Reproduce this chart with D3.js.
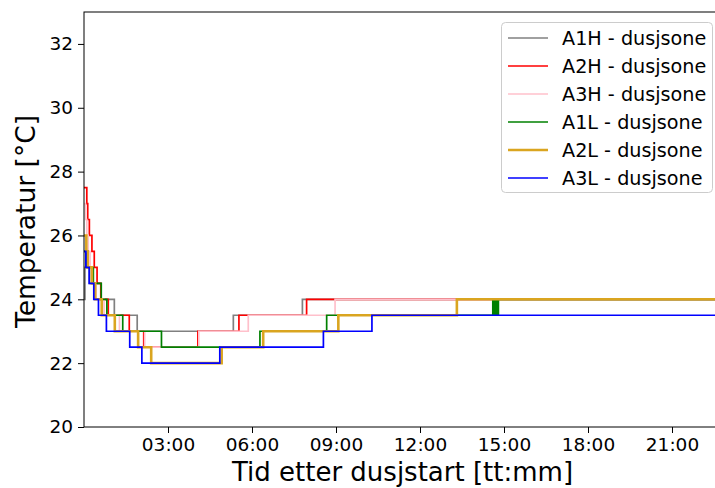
<!DOCTYPE html>
<html>
<head>
<meta charset="utf-8">
<script src="https://cdn.jsdelivr.net/npm/d3@7"></script>
<style>
  html, body { margin: 0; padding: 0; background: #fff; }
  svg { display: block; font-family: "DejaVu Sans", sans-serif; }
</style>
</head>
<body>
<svg id="chart" width="715" height="488"></svg>
<script>
// Shower-zone temperature logs: minutes after shower start and the logged value (°C) from each change on.
const seriesNames = ["A1H - dusjsone", "A2H - dusjsone", "A3H - dusjsone", "A1L - dusjsone", "A2L - dusjsone", "A3L - dusjsone"];

const a1hMinutes = [0, 2, 12, 36, 65, 114, 320, 468, 1360];
const a1hTemps   = [24.0, 25.0, 24.5, 24.0, 23.5, 23.0, 23.5, 24.0, 24.0];

const a2hMinutes = [0, 6, 8, 11.5, 17, 22, 28, 36, 52, 97, 128, 244, 332, 477, 1360];
const a2hTemps   = [27.5, 27.0, 26.5, 26.0, 25.5, 25.0, 24.5, 24.0, 23.5, 23.0, 22.5, 23.0, 23.5, 24.0, 24.0];

const a3hMinutes = [0, 3, 6, 9, 13, 19, 26, 43, 76, 130, 246, 352, 538, 1360];
const a3hTemps   = [27.0, 26.5, 26.0, 25.5, 25.0, 24.5, 24.0, 23.5, 23.0, 22.5, 23.0, 23.5, 24.0, 24.0];

const a1lMinutes = [0, 6, 20, 37, 49, 83, 166, 377, 520, 876, 878, 880, 882, 884, 886, 888, 1360];
const a1lTemps   = [25.5, 25.0, 24.5, 24.0, 23.5, 23.0, 22.5, 23.0, 23.5, 24.0, 23.5, 24.0, 23.5, 24.0, 23.5, 24.0, 24.0];

const a2lMinutes = [0, 5, 8, 17, 24, 38, 66, 116, 144, 295, 384, 545, 799, 1360];
const a2lTemps   = [26.0, 25.5, 25.0, 24.5, 24.0, 23.5, 23.0, 22.5, 22.0, 22.5, 23.0, 23.5, 24.0, 24.0];

const a3lMinutes = [0, 4, 11, 21, 31, 48, 98, 124, 291, 513, 617, 1360];
const a3lTemps   = [25.5, 25.0, 24.5, 24.0, 23.5, 23.0, 22.5, 22.0, 22.5, 23.0, 23.5, 23.5];

const xTickMinutes = [180, 360, 540, 720, 900, 1080, 1260];
const yTickValues  = [20, 22, 24, 26, 28, 30, 32];

// Line styling, in legend order
const lineColors = ["#808080", "#ff0000", "#ffc0cb", "#008000", "#daa520", "#0000ff"];
const lineWidths = [1.7, 1.7, 1.7, 1.7, 2.6, 1.7];

const seriesData = [
  [a1hMinutes, a1hTemps], [a2hMinutes, a2hTemps], [a3hMinutes, a3hTemps],
  [a1lMinutes, a1lTemps], [a2lMinutes, a2lTemps], [a3lMinutes, a3lTemps]
].map(([m, t]) => m.map((v, i) => ({ min: v, temp: t[i] })));

const svg = d3.select("#chart");
const plotLeft = 84, plotTop = 12, plotBottom = 427;
const pxPerHour = 28;
const xMax = 1360;
const plotRight = plotLeft + pxPerHour * xMax / 60;

const x = d3.scaleLinear().domain([0, xMax]).range([plotLeft, plotRight]);
const y = d3.scaleLinear().domain([20, 33]).range([plotBottom, plotTop]);

const fmt = m => d3.format("02d")(Math.floor(m / 60)) + ":" + d3.format("02d")(m % 60);

svg.append("defs").append("clipPath").attr("id", "plot-clip")
  .append("rect").attr("x", plotLeft).attr("y", plotTop)
  .attr("width", plotRight - plotLeft).attr("height", plotBottom - plotTop);

// Series lines
const line = d3.line().x(d => x(d.min)).y(d => y(d.temp)).curve(d3.curveStepAfter);
const lines = svg.append("g").attr("clip-path", "url(#plot-clip)");
seriesData.forEach((data, i) => {
  lines.append("path")
    .datum(data)
    .attr("d", line)
    .attr("fill", "none")
    .attr("stroke", lineColors[i])
    .attr("stroke-width", lineWidths[i])
    .attr("stroke-linejoin", "miter");
});

// Frame
svg.append("rect").attr("x", plotLeft).attr("y", plotTop)
  .attr("width", plotRight - plotLeft).attr("height", plotBottom - plotTop)
  .attr("fill", "none").attr("stroke", "#000").attr("stroke-width", 1);

// Axes
const xAxis = d3.axisBottom(x).tickValues(xTickMinutes).tickFormat(fmt).tickSize(6).tickPadding(5);
const yAxis = d3.axisLeft(y).tickValues(yTickValues).tickFormat(d3.format("d")).tickSize(6).tickPadding(5);

const gx = svg.append("g").attr("transform", `translate(0,${plotBottom})`).call(xAxis);
const gy = svg.append("g").attr("transform", `translate(${plotLeft},0)`).call(yAxis);
[gx, gy].forEach(g => {
  g.select(".domain").remove();
  g.selectAll(".tick line").attr("stroke", "#000").attr("stroke-width", 1);
  g.selectAll(".tick text").attr("fill", "#000").style("font-size", "18.5px").style("font-family", "DejaVu Sans");
});

// Axis titles
svg.append("text").attr("x", 402.5).attr("y", 481)
  .attr("text-anchor", "middle").style("font-size", "26px").text("Tid etter dusjstart [tt:mm]");
svg.append("text").attr("transform", `translate(35,${(plotTop + plotBottom) / 2 + 2}) rotate(-90)`)
  .attr("text-anchor", "middle").style("font-size", "26.5px").text("Temperatur [°C]");

// Legend
const lg = svg.append("g");
lg.append("rect").attr("x", 501.5).attr("y", 22.5).attr("width", 211).attr("height", 170).attr("rx", 4)
  .attr("fill", "#fff").attr("fill-opacity", 0.8).attr("stroke", "#cccccc").attr("stroke-width", 1);
seriesNames.forEach((name, i) => {
  const cy = 38 + i * 28;
  lg.append("line").attr("x1", 508).attr("x2", 548).attr("y1", cy).attr("y2", cy)
    .attr("stroke", lineColors[i]).attr("stroke-width", lineWidths[i]);
  lg.append("text").attr("x", 562).attr("y", cy).attr("dy", "0.35em")
    .style("font-size", "19.2px").text(name);
});
</script>
</body>
</html>
